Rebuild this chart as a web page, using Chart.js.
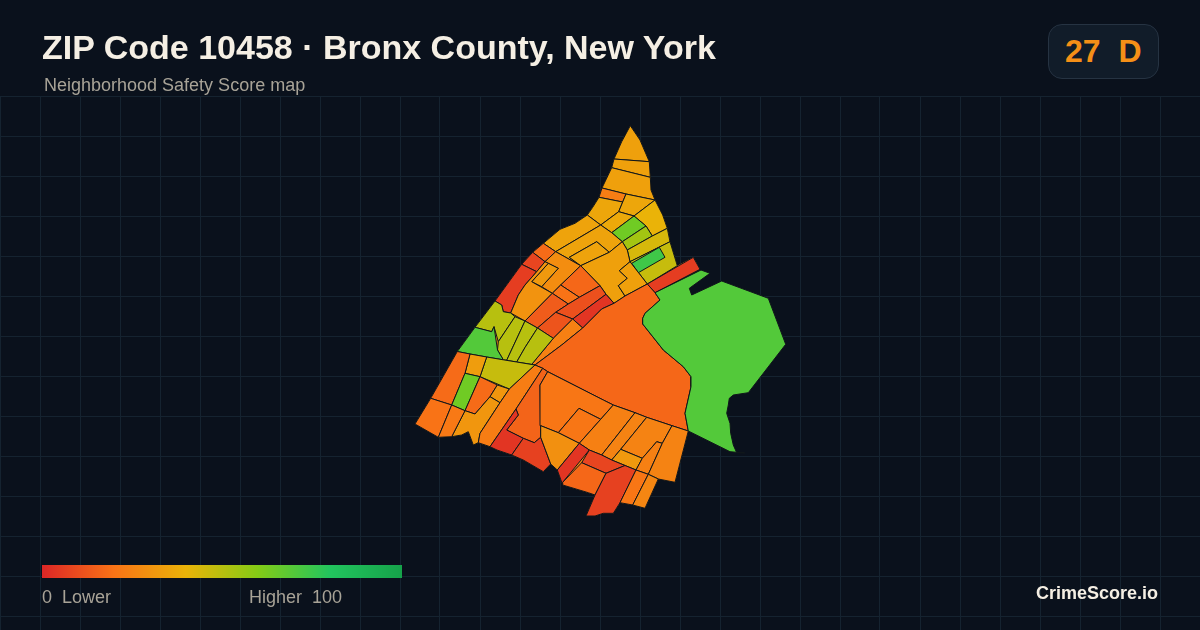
<!DOCTYPE html>
<html>
<head>
<meta charset="utf-8">
<title>ZIP Code 10458</title>
<script src="https://cdn.jsdelivr.net/npm/chart.js@4"></script>
<style>
  html, body { margin: 0; padding: 0; background: #0a111c; }
  #page { position: relative; width: 1200px; height: 630px; overflow: hidden; font-family: "Liberation Sans", Arial, sans-serif; }
  #map { position: absolute; left: 0; top: 0; }
  .txt { position: absolute; white-space: pre; line-height: 1; }
  #title { left: 42px; top: 30px; font-size: 34px; font-weight: 700; color: #f5efe4; }
  #sub { left: 44px; top: 76px; font-size: 18px; color: #a8a397; }
  #badge { position: absolute; left: 1048px; top: 24px; width: 109px; height: 53px; border: 1px solid #263342; border-radius: 14px; background: #111c29; }
  #score { left: 1065px; top: 35px; font-size: 32px; font-weight: 700; color: #f58f17; }
  #ramp { position: absolute; left: 42px; top: 565px; width: 360px; height: 13px; }
  #low { left: 42px; top: 588px; font-size: 18px; color: #a8a397; }
  #high { left: 249px; top: 588px; font-size: 18px; color: #a8a397; }
  #brand { right: 42px; top: 584px; font-size: 18px; font-weight: 700; color: #f5efe4; }
</style>
</head>
<body>
<div id="page">
  <canvas id="map" width="1200" height="630"></canvas>
  <div class="txt" id="title">ZIP Code 10458 · Bronx County, New York</div>
  <div class="txt" id="sub">Neighborhood Safety Score map</div>
  <div id="badge"></div>
  <div class="txt" id="score"></div>
  <div id="ramp"></div>
  <div class="txt" id="low">0  Lower</div>
  <div class="txt" id="high">Higher  100</div>
  <div class="txt" id="brand">CrimeScore.io</div>
</div>
<script>
const zipScore = 27;
const zipGrade = 'D';

const rampScores = [0, 20, 40, 60, 80, 100];
const rampColors = ['#dc2626', '#f97316', '#eab308', '#84cc16', '#22c55e', '#16a34a'];

// outer edge of the ZIP, sits under the block groups
const zipOutline = [[630.3,125.7],[640,140],[649.3,161.7],[650.3,177.3],[651,190],[655,200],[662.7,215],[667.3,228.3],[670,241.7],[677.3,265.7],[693.3,257.3],[700,269.3],[655,292.7],[660,300],[645,313.3],[642.7,318.3],[642.7,324],[663.3,350],[683.3,366.7],[691,376.7],[691,386.7],[685,413.3],[688.3,431],[675,482.3],[658.3,479],[645,508.3],[632.7,505],[620,502.7],[613.3,513.3],[603.3,513.3],[595,516],[586,516],[595,495],[588.3,492.7],[562.7,485],[557.3,470],[550.7,464],[543.3,471.7],[523.3,460],[511.7,455],[497,450],[490,446.7],[478.3,442.7],[473.3,445],[468.3,431.7],[461.7,435],[451.7,436.7],[438.3,437.3],[415,424],[430.7,398.3],[457.3,351.5],[475,327.3],[495,301],[521.7,264.3],[532.7,252.3],[543.3,243.3],[560,229.3],[575,223.3],[587.3,215],[592.7,207.3],[599,197.3],[602,188],[611.7,167.7],[614,159],[621.7,141.7]];

// block group outlines
const tractOutlines = [
  [[630.3,125.7],[640,140],[649.3,161.7],[614,159],[621.7,141.7]],
  [[614,159],[649.3,161.7],[650.3,177.3],[611.7,167.7]],
  [[611.7,167.7],[650.3,177.3],[651,190],[655,200],[626,194],[602,188]],
  [[602,188],[626,194],[622.7,202],[599,197.3]],
  [[599,197.3],[622.7,202],[618.7,211.7],[600.7,225],[587.3,215],[592.7,207.3]],
  [[626,194],[655,200],[634,216],[618.7,211.7],[622.7,202]],
  [[618.7,211.7],[634,216],[611.7,232.7],[600.7,225]],
  [[655,200],[662.7,215],[667.3,228.3],[652.3,236],[646,226],[634,216]],
  [[634,216],[646,226],[622.3,241.7],[611.7,232.7]],
  [[646,226],[652.3,236],[627.3,250],[622.3,241.7]],
  [[652.3,236],[667.3,228.3],[670,241.7],[630,261.7],[627.3,250]],
  [[670,241.7],[677.3,265.7],[647.3,284],[630,261.7]],
  [[659.3,247.3],[665,257.3],[638.3,272.7],[631.7,263.3]],
  [[693.3,257.3],[700,269.3],[655,292.7],[647.3,284]],
  [[587.3,215],[600.7,225],[555.7,251.7],[543.3,243.3],[560,229.3],[575,223.3]],
  [[555.7,251.7],[600.7,225],[611.7,232.7],[622.3,241.7],[609.3,252.3],[596.7,241.7],[569.3,257.3],[580.7,265.7]],
  [[569.3,257.3],[596.7,241.7],[609.3,252.3],[580.7,265.7]],
  [[609.3,252.3],[622.3,241.7],[627.3,250],[630,261.7],[619.3,270.7],[627.3,278.3],[618.3,285.7],[625,296],[614,303.3],[606,294.3],[600,285.7],[580.7,265.7]],
  [[630,261.7],[647.3,284],[625,296],[618.3,285.7],[627.3,278.3],[619.3,270.7]],
  [[543.3,243.3],[555.7,251.7],[545,261.7],[532.7,252.3]],
  [[532.7,252.3],[545,261.7],[536.7,271.7],[521.7,264.3]],
  [[521.7,264.3],[536.7,271.7],[525,285],[518.3,295],[510.7,313],[503.3,311.7],[501.7,305],[495,301]],
  [[555.7,251.7],[580.7,265.7],[560.7,285],[552.3,293.3],[541.7,286.7],[558.3,268.3],[548.3,263.3],[545,261.7]],
  [[548.3,263.3],[558.3,268.3],[541.7,286.7],[531.7,281.7]],
  [[536.7,271.7],[545,261.7],[548.3,263.3],[531.7,281.7],[552.3,293.3],[525,321],[510.7,313],[518.3,295],[525,285]],
  [[580.7,265.7],[600,285.7],[579.3,297.3],[560.7,285]],
  [[560.7,285],[579.3,297.3],[568.3,304],[552.3,293.3]],
  [[552.3,293.3],[568.3,304],[555.7,312.3],[537.5,328],[525,321]],
  [[600,285.7],[606,294.3],[572.7,319],[555.7,312.3],[568.3,304],[579.3,297.3]],
  [[606,294.3],[614,303.3],[601.7,309],[582.7,328],[572.7,319]],
  [[555.7,312.3],[572.7,319],[553.3,338.3],[537.5,328]],
  [[572.7,319],[582.7,328],[561.7,345],[535,365],[531.7,364.4],[553.3,338.3]],
  [[614,303.3],[625,296],[647.3,284],[655,292.7],[660,300],[645,313.3],[642.7,318.3],[642.7,324],[663.3,350],[683.3,366.7],[691,376.7],[691,386.7],[685,413.3],[688.3,431],[672,425.7],[646.7,417.3],[635,412.7],[613.3,405],[603.3,400],[547.7,371.7],[542.7,368.3],[535,365],[561.7,345],[582.7,328],[601.7,309]],
  [[495,301],[501.7,305],[503.3,311.7],[510.7,313],[515,316.7],[498.3,341.7],[494,326.7],[491.7,331.7],[475,327.3]],
  [[515,316.7],[525,321],[506.7,360.3],[503.3,359.8],[497.5,350],[498.3,341.7]],
  [[525,321],[537.5,328],[525,347.5],[516.7,362],[506.7,360.3]],
  [[537.5,328],[553.3,338.3],[531.7,364.4],[516.7,362],[525,347.5]],
  [[475,327.3],[491.7,331.7],[494,326.7],[497.5,350],[503.3,359.8],[486.7,357],[470,354],[457.3,351.5]],
  [[486.7,357],[503.3,359.8],[516.7,362],[535,365],[509.3,389],[480,376.7]],
  [[470,354],[486.7,357],[480,376.7],[465,373.3]],
  [[457.3,351.5],[470,354],[465,373.3],[451.7,405],[430.7,398.3]],
  [[465,373.3],[480,376.7],[465,410.7],[451.7,405]],
  [[480,376.7],[497.3,385],[490,396.7],[475,414],[465,410.7]],
  [[497.3,385],[509.3,389],[500,402.7],[490,396.7]],
  [[490,396.7],[500,402.7],[480,433.3],[478.3,442.7],[473.3,445],[468.3,431.7],[461.7,435],[451.7,436.7],[465,410.7],[475,414]],
  [[415,424],[430.7,398.3],[451.7,405],[438.3,437.3]],
  [[451.7,405],[465,410.7],[451.7,436.7],[438.3,437.3]],
  [[509.3,389],[535,365],[542.7,368.3],[516,409],[490,446.7],[478.3,442.7],[480,433.3],[500,402.7]],
  [[542.7,368.3],[547.7,371.7],[540,385],[540.7,437.3],[534.3,442.7],[523.3,438.3],[506.7,430],[518.3,415],[516,409]],
  [[490,446.7],[516,409],[518.3,415],[506.7,430],[523.3,438.3],[511.7,455],[497,450]],
  [[523.3,438.3],[534.3,442.7],[540.7,437.3],[550.7,464],[543.3,471.7],[523.3,460],[511.7,455]],
  [[547.7,371.7],[603.3,400],[613.3,405],[600.7,419.3],[579,408.3],[558.3,432.7],[540.7,425.7],[540,385]],
  [[579,408.3],[600.7,419.3],[579.3,443.3],[558.3,432.7]],
  [[613.3,405],[635,412.7],[601.7,455],[589.3,450],[579.3,443.3],[600.7,419.3]],
  [[635,412.7],[646.7,417.3],[620.7,449.3],[611.7,460],[601.7,455]],
  [[646.7,417.3],[672,425.7],[662.3,443.3],[656.7,441.7],[642.3,458.3],[620.7,449.3]],
  [[620.7,449.3],[642.3,458.3],[636,470],[611.7,460]],
  [[656.7,441.7],[662.3,443.3],[648.3,474.3],[636,470],[642.3,458.3]],
  [[672,425.7],[688.3,431],[675,482.3],[658.3,479],[648.3,474.3],[662.3,443.3]],
  [[540.7,425.7],[558.3,432.7],[579.3,443.3],[557.3,470],[550.7,464],[540.7,437.3]],
  [[579.3,443.3],[589.3,450],[562.7,482.3],[562.7,485],[557.3,470]],
  [[589.3,450],[601.7,455],[611.7,460],[625,465.5],[606,473.3],[581.7,462.7]],
  [[581.7,462.7],[606,473.3],[595,495],[588.3,492.7],[562.7,485],[562.7,482.3]],
  [[606,473.3],[625,465.5],[636,470],[620,502.7],[613.3,513.3],[603.3,513.3],[595,516],[586,516],[595,495]],
  [[636,470],[648.3,474.3],[632.7,505],[620,502.7]],
  [[648.3,474.3],[658.3,479],[645,508.3],[632.7,505]],
  [[701,270],[710,273.3],[689.3,288.3],[691.7,295],[721.7,281],[768.3,298.3],[785.7,344.3],[748.3,392.7],[733.3,395],[729.3,398.3],[728.3,405],[726.7,413.3],[730,423.3],[730.7,433.3],[733.3,445],[736.7,452.7],[745,453],[730,451.7],[688.3,431],[685,413.3],[691,386.7],[691,376.7],[683.3,366.7],[663.3,350],[642.7,324],[642.7,318.3],[645,313.3],[660,300],[655,292.7]]
];

const tractScores = [
  34, 34, 34, 23, 36, 36, 37, 40, 64, 54, 44, 47, 74, 6,
  35, 35, 35, 34, 34, 18, 8, 6, 28, 32, 30, 17, 20, 14, 11, 4, 12, 24, 17,
  50, 50, 50, 50, 70, 47, 33, 18, 64, 18, 31, 31, 20, 22, 23, 16, 4, 7,
  21, 21, 24, 25, 25, 32, 24, 25, 29, 4, 8, 17, 7, 21, 26, 70
];

const gridStep = 40;
const gridTopY = 96;

function mix(a, b, t) {
  const pa = parseInt(a.slice(1), 16), pb = parseInt(b.slice(1), 16);
  const ch = s => Math.round(((pa >> s) & 255) * (1 - t) + ((pb >> s) & 255) * t);
  return `rgb(${ch(16)},${ch(8)},${ch(0)})`;
}

function scoreColor(v) {
  let i = 0;
  while (i < rampScores.length - 2 && v > rampScores[i + 1]) i++;
  return mix(rampColors[i], rampColors[i + 1], (v - rampScores[i]) / (rampScores[i + 1] - rampScores[i]));
}

document.getElementById('score').textContent = zipScore + '  ' + zipGrade;
document.getElementById('ramp').style.background = 'linear-gradient(90deg,' +
  rampColors.map((c, i) => c + ' ' + rampScores[i] + '%').join(',') + ')';

function shape(outline, score, order, lineWidth) {
  return {
    data: outline.concat([outline[0]]).map(p => ({ x: p[0], y: p[1] })),
    showLine: true,
    fill: 'shape',
    tension: 0,
    pointRadius: 0,
    borderWidth: lineWidth,
    borderColor: '#10161b',
    backgroundColor: scoreColor(score),
    order,
  };
}

const datasets = [shape(zipOutline, zipScore, 1, 0)].concat(
  tractOutlines.map((outline, i) => shape(outline, tractScores[i], -i, 1))
);

new Chart(document.getElementById('map'), {
  type: 'scatter',
  data: { datasets },
  options: {
    responsive: false,
    animation: false,
    layout: { padding: { top: gridTopY } },
    plugins: { legend: { display: false }, tooltip: { enabled: false }, title: { display: false } },
    scales: {
      x: {
        min: 0,
        max: 1200,
        ticks: { display: false, stepSize: gridStep },
        grid: { color: '#152330', lineWidth: 1, drawTicks: false },
        border: { display: false },
      },
      y: {
        reverse: true,
        min: gridTopY,
        max: 630,
        ticks: { display: false },
        afterBuildTicks(scale) {
          const out = [];
          for (let v = gridTopY; v <= 630; v += gridStep) out.push({ value: v });
          scale.ticks = out;
        },
        grid: { color: '#152330', lineWidth: 1, drawTicks: false },
        border: { display: false },
      },
    },
  },
});
</script>
</body>
</html>
